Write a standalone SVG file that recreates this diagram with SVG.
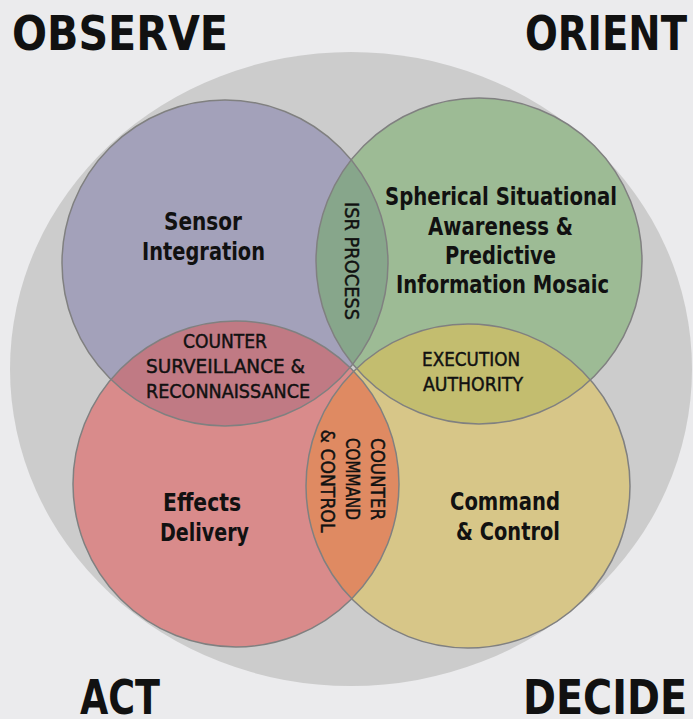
<svg xmlns="http://www.w3.org/2000/svg" width="693" height="719" viewBox="0 0 693 719">
<style>
.head{font-family:"DejaVu Sans Condensed","DejaVu Sans",sans-serif;font-weight:bold;font-stretch:condensed;font-size:48px;fill:#111}
.big{font-family:"DejaVu Sans Condensed","DejaVu Sans",sans-serif;font-weight:bold;font-stretch:condensed;font-size:24px;fill:#111;text-anchor:middle}
.small{font-family:"DejaVu Sans Condensed","DejaVu Sans",sans-serif;font-stretch:condensed;font-size:20px;fill:#111;stroke:#111;stroke-width:0.45;text-anchor:middle}
.ring{fill:none;stroke:#808080;stroke-width:1.5}
</style>
<defs>
<clipPath id="cpP"><circle cx="225" cy="263" r="163"/></clipPath>
<clipPath id="cpG"><circle cx="479" cy="261" r="163"/></clipPath>
<clipPath id="cpR"><circle cx="236" cy="484" r="163"/></clipPath>
<clipPath id="cpY"><circle cx="468" cy="486" r="162"/></clipPath>
</defs>
<rect x="0" y="0" width="693" height="719" fill="#ebebed"/>
<ellipse cx="351" cy="369" rx="341" ry="317" fill="#cccccc"/>

<g id="observe-node">
<circle cx="225" cy="263" r="163" fill="#a3a1ba"/>
</g>
<g id="orient-node">
<circle cx="479" cy="261" r="163" fill="#9dbb95"/>
</g>
<g id="act-node">
<circle cx="236" cy="484" r="163" fill="#d98b8b"/>
</g>
<g id="decide-node">
<circle cx="468" cy="486" r="162" fill="#d7c688"/>
</g>

<g id="isr-lens"><circle cx="479" cy="261" r="163" fill="#87a68b" clip-path="url(#cpP)"/></g>
<g id="counter-surveillance-lens"><circle cx="236" cy="484" r="163" fill="#c07a84" clip-path="url(#cpP)"/></g>
<g id="execution-lens"><circle cx="468" cy="486" r="162" fill="#c3bd6f" clip-path="url(#cpG)"/></g>
<g id="counter-c2-lens"><circle cx="468" cy="486" r="162" fill="#df8a62" clip-path="url(#cpR)"/></g>

<g id="outlines">
<circle class="ring" cx="225" cy="263" r="163"/>
<circle class="ring" cx="479" cy="261" r="163"/>
<circle class="ring" cx="236" cy="484" r="163"/>
<circle class="ring" cx="468" cy="486" r="162"/>
</g>

<g id="labels">
<text class="big" x="203" y="230" textLength="78" lengthAdjust="spacingAndGlyphs">Sensor</text>
<text class="big" x="203.5" y="260" textLength="123" lengthAdjust="spacingAndGlyphs">Integration</text>

<text class="big" x="501" y="205" textLength="232" lengthAdjust="spacingAndGlyphs">Spherical Situational</text>
<text class="big" x="500.5" y="235" textLength="145" lengthAdjust="spacingAndGlyphs">Awareness &amp;</text>
<text class="big" x="500.5" y="264" textLength="111" lengthAdjust="spacingAndGlyphs">Predictive</text>
<text class="big" x="502.5" y="293" textLength="213" lengthAdjust="spacingAndGlyphs">Information Mosaic</text>

<text class="big" x="202" y="511" textLength="78" lengthAdjust="spacingAndGlyphs">Effects</text>
<text class="big" x="204.5" y="541" textLength="89" lengthAdjust="spacingAndGlyphs">Delivery</text>

<text class="big" x="505" y="510" textLength="110" lengthAdjust="spacingAndGlyphs">Command</text>
<text class="big" x="508" y="540" textLength="104" lengthAdjust="spacingAndGlyphs">&amp; Control</text>

<text class="small" x="225" y="348" textLength="84" lengthAdjust="spacingAndGlyphs">COUNTER</text>
<text class="small" x="225.5" y="373" textLength="159" lengthAdjust="spacingAndGlyphs">SURVEILLANCE &amp;</text>
<text class="small" x="228" y="398" textLength="164" lengthAdjust="spacingAndGlyphs">RECONNAISSANCE</text>

<text class="small" x="471" y="366" textLength="98" lengthAdjust="spacingAndGlyphs">EXECUTION</text>
<text class="small" x="473" y="391" textLength="100" lengthAdjust="spacingAndGlyphs">AUTHORITY</text>

<text class="small" transform="translate(352.5,261) rotate(90)" x="0" y="8" textLength="118" lengthAdjust="spacingAndGlyphs">ISR PROCESS</text>
<text class="small" transform="translate(378.5,479) rotate(90)" x="0" y="8" textLength="82" lengthAdjust="spacingAndGlyphs">COUNTER</text>
<text class="small" transform="translate(353.5,479) rotate(90)" x="0" y="8" textLength="82" lengthAdjust="spacingAndGlyphs">COMMAND</text>
<text class="small" transform="translate(328.5,481) rotate(90)" x="0" y="8" textLength="103" lengthAdjust="spacingAndGlyphs">&amp; CONTROL</text>
</g>

<g id="headings">
<text class="head" x="12" y="50" textLength="216" lengthAdjust="spacingAndGlyphs">OBSERVE</text>
<text class="head" x="525" y="50" textLength="162" lengthAdjust="spacingAndGlyphs">ORIENT</text>
<text class="head" x="80" y="714" textLength="80" lengthAdjust="spacingAndGlyphs">ACT</text>
<text class="head" x="523" y="714" textLength="164" lengthAdjust="spacingAndGlyphs">DECIDE</text>
</g>
</svg>
